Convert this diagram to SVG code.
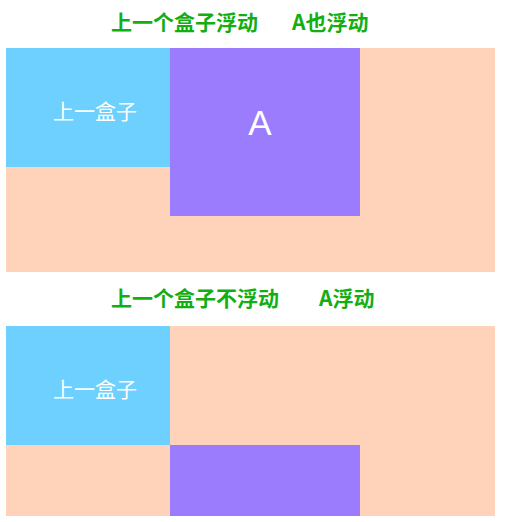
<svg xmlns="http://www.w3.org/2000/svg" width="512" height="522" viewBox="0 0 512 522">
<style>
.title{font-family:"Noto Sans CJK SC","Liberation Sans",sans-serif;font-size:21px;font-weight:bold;fill:#12ae12}
.lbl{font-family:"Noto Sans CJK SC","Liberation Sans",sans-serif;font-size:21px;fill:#ffffff}
.big{font-family:"Liberation Sans","Noto Sans",sans-serif;font-size:35px;fill:#ffffff}
.peach{fill:#fed3ba}
.blue{fill:#6dd0fe}
.purple{fill:#9b7cfd}
</style>
<rect width="512" height="522" fill="#ffffff"/>
<g id="title1">
<text class="title" x="111" y="30">上一个盒子浮动</text>
<text class="title" x="292" y="30">A也浮动</text>
</g>
<g id="container1"><rect class="peach" x="6" y="48" width="489" height="224"/></g>
<g id="prev1">
<rect class="blue" x="6" y="48" width="164" height="119"/>
<text class="lbl" x="95" y="119" text-anchor="middle">上一盒子</text>
</g>
<g id="a1">
<rect class="purple" x="170" y="48" width="190" height="168"/>
<text class="big" x="260" y="135" text-anchor="middle">A</text>
</g>
<g id="title2">
<text class="title" x="111" y="306">上一个盒子不浮动</text>
<text class="title" x="319" y="306">A浮动</text>
</g>
<g id="container2"><rect class="peach" x="6" y="326" width="489" height="190"/></g>
<g id="prev2">
<rect class="blue" x="6" y="326" width="164" height="119"/>
<text class="lbl" x="95" y="397" text-anchor="middle">上一盒子</text>
</g>
<g id="a2">
<rect class="purple" x="170" y="445" width="190" height="71"/>
</g>
<g id="connectors"></g>
</svg>
